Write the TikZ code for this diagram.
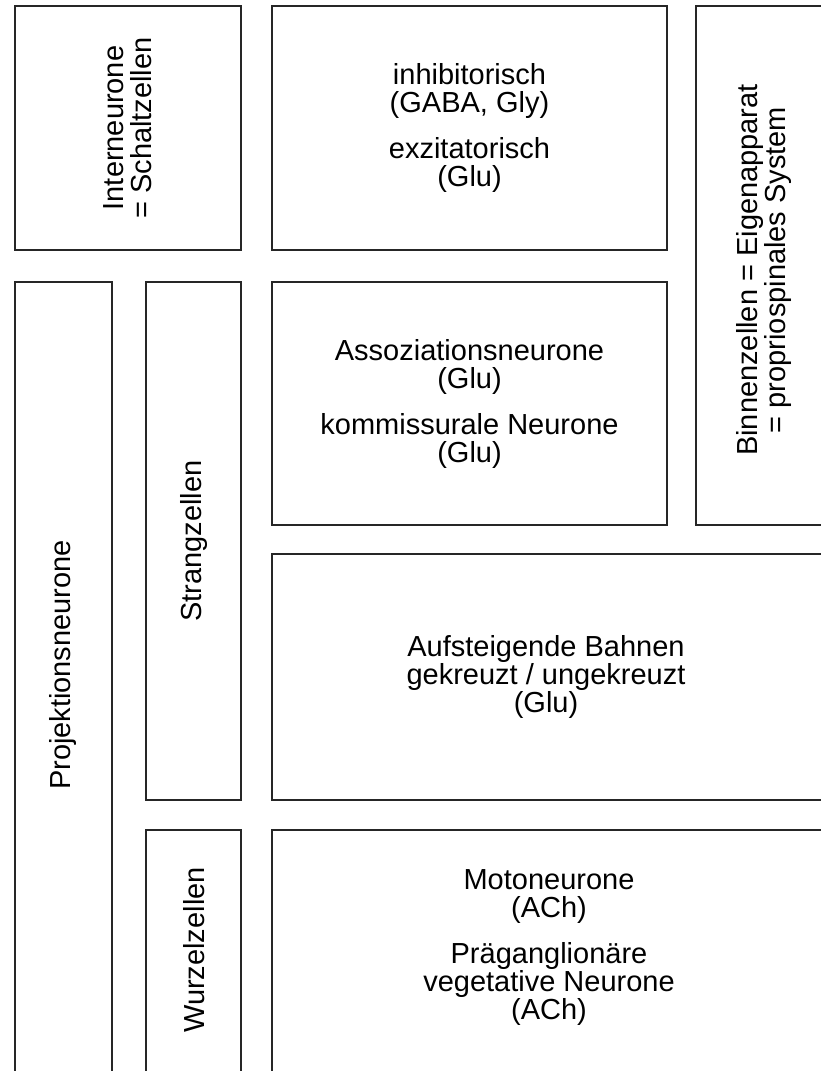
\documentclass[tikz,border=0pt]{standalone}
\usepackage{fontspec}
\setmainfont{Liberation Sans}
\usepackage{tikz}

\newcommand{\lblfont}{\fontsize{29}{28}\selectfont\setlength{\lineskiplimit}{-20pt}}

\tikzset{
  box/.style={draw=black!85, line width=1.2pt},
  lbl/.style={align=center, inner sep=0pt, font=\lblfont},
}

\begin{document}
\begin{tikzpicture}[x=1pt, y=-1pt]
\useasboundingbox (0,0) rectangle (821,1071);
\clip (0,0) rectangle (821,1071);

% upper row
\draw[box] (15,6) rectangle (241,250);
\node[lbl, rotate=90] (inter) at (128,128) {Interneurone\\= Schaltzellen};

\draw[box] (272,6) rectangle (667,250);
\node[lbl] (inhib) at (469.5,128) {inhibitorisch\\(GABA, Gly)\\[18pt]exzitatorisch\\(Glu)};

\draw[box] (696,6) rectangle (832,525);
\node[lbl, rotate=90] (binnen) at (764,270) {Binnenzellen = Eigenapparat\\= propriospinales System};

% projection neurons
\draw[box] (15,282) rectangle (112,1090);
\node[lbl, rotate=90] (projekt) at (63,665) {Projektionsneurone};

\draw[box] (146,282) rectangle (241,800);
\node[lbl, rotate=90] (strang) at (194,541) {Strangzellen};

\draw[box] (272,282) rectangle (667,525);
\node[lbl] (assoz) at (469.5,403.5) {Assoziationsneurone\\(Glu)\\[18pt]kommissurale Neurone\\(Glu)};

\draw[box] (272,554) rectangle (822,800);
\node[lbl] (aufst) at (546,677) {Aufsteigende Bahnen\\gekreuzt / ungekreuzt\\(Glu)};

\draw[box] (146,830) rectangle (241,1090);
\node[lbl, rotate=90] (wurzel) at (194,950) {Wurzelzellen};

\draw[box] (272,830) rectangle (826,1090);
\node[lbl] (moto) at (549,948) {Motoneurone\\(ACh)\\[18pt]Präganglionäre\\vegetative Neurone\\(ACh)};
\end{tikzpicture}
\end{document}
